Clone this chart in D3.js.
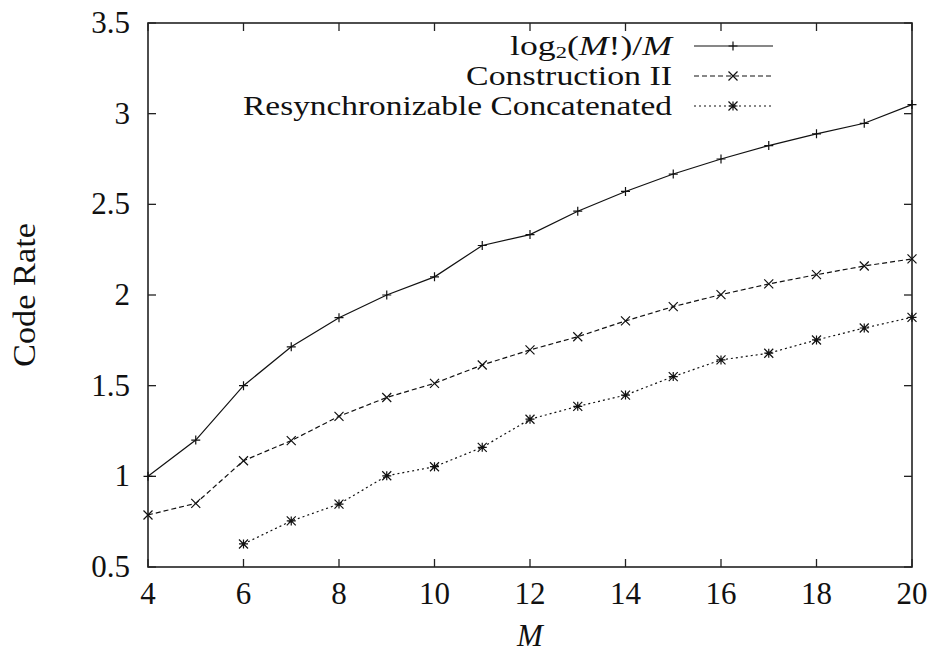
<!DOCTYPE html>
<html>
<head>
<meta charset="utf-8">
<script src="https://cdn.jsdelivr.net/npm/d3@7"></script>
<style>
  body { margin: 0; background: #fff; }
  svg text { font-family: "Liberation Serif", "DejaVu Serif", serif; fill: #111; }
</style>
</head>
<body>
<div id="container"></div>
<script>
var mValues = [4, 5, 6, 7, 8, 9, 10, 11, 12, 13, 14, 15, 16, 17, 18, 19, 20];

// floor(log2(M!))/M as plotted
var logRate = [1.0, 1.2, 1.5, 1.714, 1.875, 2.0, 2.1, 2.273, 2.333, 2.462, 2.571, 2.667, 2.75, 2.824, 2.889, 2.947, 3.05];
var constructionII = [0.787, 0.851, 1.086, 1.197, 1.331, 1.435, 1.513, 1.614, 1.697, 1.77, 1.857, 1.936, 2.002, 2.061, 2.112, 2.16, 2.199];
// starts at M = 6
var resyncM = [6, 7, 8, 9, 10, 11, 12, 13, 14, 15, 16, 17, 18, 19, 20];
var resyncRate = [0.627, 0.754, 0.847, 1.003, 1.053, 1.16, 1.315, 1.386, 1.448, 1.55, 1.642, 1.679, 1.752, 1.818, 1.877];

var xTicks = [4, 6, 8, 10, 12, 14, 16, 18, 20];
var yTicks = [0.5, 1, 1.5, 2, 2.5, 3, 3.5];

var series = [
  { name: 'log2', xs: mValues, ys: logRate, dash: null, marker: 'plus', labelWidth: 162 },
  { name: 'Construction II', xs: mValues, ys: constructionII, dash: '5,3', marker: 'cross', labelWidth: 206 },
  { name: 'Resynchronizable Concatenated', xs: resyncM, ys: resyncRate, dash: '2,3', marker: 'star', labelWidth: 429 }
];

var width = 936, height = 655;
var margin = { top: 23, right: 24, bottom: 88, left: 148 };

var svg = d3.select('#container').append('svg')
  .attr('width', width)
  .attr('height', height);

var x = d3.scaleLinear().domain([4, 20]).range([margin.left, width - margin.right]);
var y = d3.scaleLinear().domain([0.5, 3.5]).range([height - margin.bottom, margin.top]);

var fontSize = 31;

// stretch a text horizontally (Computer Modern is wider than Times)
var stretchTo = function(sel, target) {
  var w = sel.node().getComputedTextLength();
  return w > 0 ? target / w : 1;
};

// ticks on all four sides (gnuplot mirror)
var tickLen = 8;
var tickG = svg.append('g').attr('stroke', '#222').attr('stroke-width', 1.3);
xTicks.forEach(function(t) {
  tickG.append('line').attr('x1', x(t)).attr('x2', x(t)).attr('y1', y(0.5)).attr('y2', y(0.5) - tickLen);
  tickG.append('line').attr('x1', x(t)).attr('x2', x(t)).attr('y1', y(3.5)).attr('y2', y(3.5) + tickLen);
});
yTicks.forEach(function(t) {
  tickG.append('line').attr('x1', x(4)).attr('x2', x(4) + tickLen).attr('y1', y(t)).attr('y2', y(t));
  tickG.append('line').attr('x1', x(20)).attr('x2', x(20) - tickLen).attr('y1', y(t)).attr('y2', y(t));
});

svg.append('rect')
  .attr('x', x(4)).attr('y', y(3.5))
  .attr('width', x(20) - x(4)).attr('height', y(0.5) - y(3.5))
  .attr('fill', 'none').attr('stroke', '#222').attr('stroke-width', 1.6);

// tick labels
svg.append('g').selectAll('text')
  .data(xTicks).enter().append('text')
  .attr('x', function(d) { return x(d); })
  .attr('y', y(0.5) + 37)
  .attr('text-anchor', 'middle')
  .style('font-size', fontSize + 'px')
  .text(function(d) { return d; });

svg.append('g').selectAll('text')
  .data(yTicks).enter().append('text')
  .attr('x', x(4) - 18)
  .attr('y', function(d) { return y(d) + 10; })
  .attr('text-anchor', 'end')
  .style('font-size', fontSize + 'px')
  .text(function(d) { return d; });

// axis titles
var yTitle = svg.append('text')
  .attr('text-anchor', 'middle')
  .style('font-size', fontSize + 'px')
  .text('Code Rate');
yTitle.attr('transform', 'translate(35,' + ((y(0.5) + y(3.5)) / 2) + ') rotate(-90) scale(' + stretchTo(yTitle, 144) + ',1)');

svg.append('text')
  .attr('x', (x(4) + x(20)) / 2)
  .attr('y', 646)
  .attr('text-anchor', 'middle')
  .style('font-size', fontSize + 'px')
  .style('font-style', 'italic')
  .text('M');

var drawMarker = function(g, cx, cy, type) {
  var s = 4.5;
  var p = '';
  if (type === 'plus' || type === 'star') {
    p += 'M' + (cx - s) + ',' + cy + 'H' + (cx + s) + 'M' + cx + ',' + (cy - s) + 'V' + (cy + s);
  }
  if (type === 'cross' || type === 'star') {
    p += 'M' + (cx - s) + ',' + (cy - s) + 'L' + (cx + s) + ',' + (cy + s) +
         'M' + (cx - s) + ',' + (cy + s) + 'L' + (cx + s) + ',' + (cy - s);
  }
  g.append('path').attr('d', p).attr('stroke', '#111').attr('stroke-width', 1.2).attr('fill', 'none');
};

var line = d3.line()
  .x(function(d) { return x(d[0]); })
  .y(function(d) { return y(d[1]); });

series.forEach(function(s) {
  var pts = s.xs.map(function(m, i) { return [m, s.ys[i]]; });
  var g = svg.append('g');
  g.append('path')
    .datum(pts)
    .attr('d', line)
    .attr('fill', 'none')
    .attr('stroke', '#111')
    .attr('stroke-width', 1.2)
    .attr('stroke-dasharray', s.dash);
  pts.forEach(function(p) { drawMarker(g, x(p[0]), y(p[1]), s.marker); });
});

// legend
var legendRight = 672, rowY = [46, 76, 106], legendFont = 27;
series.forEach(function(s, i) {
  var t = svg.append('text')
    .attr('text-anchor', 'end')
    .style('font-size', legendFont + 'px');
  if (i === 0) {
    t.append('tspan').text('log');
    t.append('tspan').attr('dy', 3).style('font-size', '17px').text('2');
    t.append('tspan').attr('dy', -3).text('(');
    t.append('tspan').style('font-style', 'italic').text('M');
    t.append('tspan').text('!)/');
    t.append('tspan').style('font-style', 'italic').text('M');
  } else {
    t.text(s.name);
  }
  t.attr('transform', 'translate(' + legendRight + ',' + (rowY[i] + 9) + ') scale(' + stretchTo(t, s.labelWidth) + ',1)');

  var lg = svg.append('g');
  lg.append('line')
    .attr('x1', 694).attr('x2', 773)
    .attr('y1', rowY[i]).attr('y2', rowY[i])
    .attr('stroke', '#111').attr('stroke-width', 1.2)
    .attr('stroke-dasharray', s.dash);
  drawMarker(lg, 733, rowY[i], s.marker);
});
</script>
</body>
</html>
